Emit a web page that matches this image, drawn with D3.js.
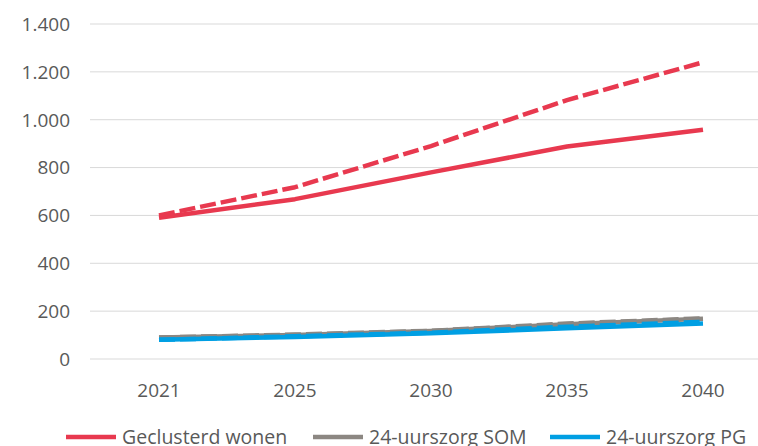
<!DOCTYPE html>
<html>
<head>
<meta charset="utf-8">
<script src="https://cdn.jsdelivr.net/npm/d3@7"></script>
<style>
  body { margin: 0; background: #fff; }
  text { font-family: "Open Sans", sans-serif; fill: #595959; }
</style>
</head>
<body>
<div id="chart"></div>
<script>
// categories and series values
var years = ["2021", "2025", "2030", "2035", "2040"];
var yTicks = [0, 200, 400, 600, 800, 1000, 1200, 1400];
var geclusterd = [590, 668, 780, 888, 958];
var geclusterdHoog = [600, 718, 890, 1082, 1240];
var somHoog = [90, 102, 118, 148, 170];
var som = [90, 100, 117, 145, 168];
var pg = [80, 92, 108, 128, 148];
var pgHoog = [80, 95, 110, 135, 155];

var legendNames = ["Geclusterd wonen", "24-uurszorg SOM", "24-uurszorg PG"];
var colors = ["#E8394F", "#8C8782", "#009FE3"];

var width = 758, height = 446;

// lines drawn in this order (dashed = second variant)
var series = [
  { values: somHoog, color: colors[1], dash: "16,5" },
  { values: som, color: colors[1], dash: null },
  { values: pg, color: colors[2], dash: null },
  { values: pgHoog, color: colors[2], dash: "16,5" },
  { values: geclusterd, color: colors[0], dash: null },
  { values: geclusterdHoog, color: colors[0], dash: "16,5" }
];

var x = d3.scalePoint().domain(years).range([91, 771]).padding(0.5);
var y = d3.scaleLinear().domain([0, 1400]).range([359, 24]);

var svg = d3.select("#chart").append("svg")
    .attr("width", width)
    .attr("height", height);

// gridlines
svg.append("g").selectAll("line")
  .data(yTicks)
  .enter().append("line")
    .attr("x1", 90).attr("x2", width)
    .attr("y1", d => y(d)).attr("y2", d => y(d))
    .attr("stroke", "#d9d9d9")
    .attr("stroke-width", 1);

// y axis labels
var fmt = d3.formatLocale({ decimal: ",", thousands: ".", grouping: [3], currency: ["", ""] }).format(",");
svg.append("g").selectAll("text")
  .data(yTicks)
  .enter().append("text")
    .attr("x", 70)
    .attr("y", d => y(d))
    .attr("dy", "0.36em")
    .attr("text-anchor", "end")
    .style("font-size", "19px")
    .text(d => fmt(d));

// x axis labels
svg.append("g").selectAll("text")
  .data(years)
  .enter().append("text")
    .attr("x", d => x(d))
    .attr("y", 397)
    .attr("text-anchor", "middle")
    .style("font-size", "19px")
    .text(d => d);

var line = d3.line()
    .x((d, i) => x(years[i]))
    .y(d => y(d));

svg.append("g").selectAll("path")
  .data(series)
  .enter().append("path")
    .attr("d", d => line(d.values))
    .attr("fill", "none")
    .attr("stroke", d => d.color)
    .attr("stroke-width", 4.5)
    .attr("stroke-linejoin", "round")
    .attr("stroke-dasharray", d => d.dash);

// legend
var legendX = [66, 313, 550];
var lg = svg.append("g").selectAll("g")
  .data(legendNames)
  .enter().append("g")
    .attr("transform", (d, i) => "translate(" + legendX[i] + ",437)");
lg.append("line")
    .attr("x1", 0).attr("x2", 50)
    .attr("stroke", (d, i) => colors[i])
    .attr("stroke-width", 4.5);
lg.append("text")
    .attr("x", 56)
    .attr("dy", "0.36em")
    .style("font-size", "19.5px")
    .text(d => d);
</script>
</body>
</html>
